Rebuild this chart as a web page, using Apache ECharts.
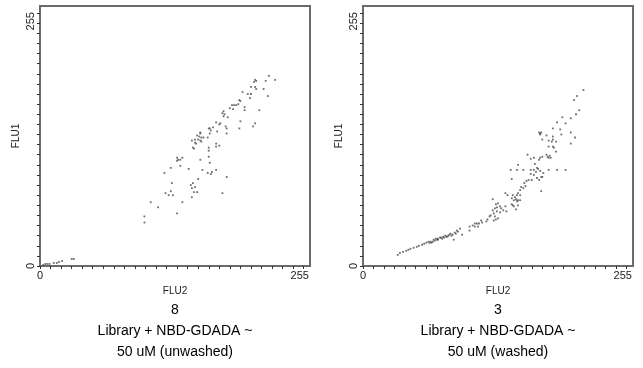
<!DOCTYPE html>
<html>
<head>
<meta charset="utf-8">
<script src="https://cdn.jsdelivr.net/npm/echarts@6/dist/echarts.min.js"></script>
<style>
  html, body { margin: 0; padding: 0; background: #fff; }
  #chart { width: 643px; height: 368px; }
</style>
</head>
<body>
<div id="chart"></div>
<script>
// channel ticks every 10, only the ends are labelled
var tickValues = [0, 10, 20, 30, 40, 50, 60, 70, 80, 90, 100, 110, 120, 130, 140, 150, 160, 170, 180, 190, 200, 210, 220, 230, 240, 250];
var labelValues = [0, 255];
var axisNames = ['FLU2', 'FLU1'];
var sampleNumbers = ['8', '3'];
var sampleNames = ['Library + NBD-GDADA ~\n50 uM (unwashed)', 'Library + NBD-GDADA ~\n50 uM (washed)'];

// [FLU2, FLU1] events
var unwashed = [
  [3, 1], [5, 2], [7, 2], [9, 2], [13, 3], [16, 3], [18, 4], [21, 5], [30, 7], [32, 7],
  [217, 188], [223, 184], [204, 184], [205, 183], [203, 182], [214, 183], [200, 177], [204, 177], [205, 175], [212, 175],
  [192, 172], [197, 170], [200, 170], [216, 168], [199, 166], [189, 164], [190, 163], [188, 160], [184, 159], [186, 159],
  [182, 159], [180, 156], [183, 155], [194, 157], [194, 154], [208, 154], [174, 153], [173, 151], [175, 150], [174, 148],
  [178, 147], [190, 143], [167, 142], [171, 141], [170, 140], [176, 138], [204, 141], [202, 138], [189, 136], [177, 136],
  [164, 137], [161, 136], [160, 136], [162, 134], [168, 133], [152, 132], [152, 131], [161, 131], [177, 131], [149, 129],
  [151, 128], [153, 127], [147, 125], [150, 125], [152, 124], [144, 124], [147, 122], [148, 121], [153, 123], [155, 127],
  [159, 127], [167, 121], [167, 118], [170, 119], [145, 117], [146, 116], [160, 117], [160, 114], [160, 108], [161, 102],
  [152, 105], [130, 107], [131, 105], [133, 105], [135, 107], [130, 104], [133, 99], [124, 97], [141, 96], [118, 92],
  [154, 95], [159, 92], [162, 91], [163, 93], [167, 95], [177, 88], [150, 86], [145, 82], [143, 80], [147, 78],
  [144, 77], [125, 82], [124, 74], [119, 72], [122, 70], [126, 70], [146, 73], [149, 73], [144, 68], [173, 72],
  [105, 63], [112, 58], [135, 63], [130, 52], [99, 49], [99, 43]
];

var washed = [
  [209, 174], [203, 168], [200, 164], [205, 154], [202, 150], [197, 146], [189, 147], [184, 142], [192, 141], [180, 136],
  [187, 135], [197, 132], [188, 130], [169, 132], [168, 131], [167, 132], [168, 130], [174, 129], [170, 125], [176, 124],
  [180, 128], [180, 125], [179, 123], [183, 123], [201, 127], [176, 118], [180, 118], [181, 117], [197, 121], [183, 113],
  [156, 110], [174, 110], [175, 108], [176, 107], [178, 107], [177, 109], [159, 106], [162, 107], [168, 107], [167, 105],
  [170, 108], [147, 100], [146, 95], [163, 101], [165, 97], [166, 96], [162, 95], [164, 93], [168, 94], [171, 92],
  [169, 88], [170, 88], [140, 95], [152, 95], [159, 95], [176, 95], [184, 95], [192, 95], [159, 91], [162, 90],
  [165, 87], [167, 85], [160, 85], [157, 85], [155, 84], [141, 86], [153, 82], [154, 79], [150, 78], [152, 77],
  [149, 75], [147, 72], [146, 70], [144, 68], [145, 66], [149, 70], [169, 74], [135, 72], [137, 70], [142, 70],
  [141, 67], [143, 65], [146, 64], [141, 61], [147, 65], [149, 65], [143, 59], [145, 56], [142, 60], [147, 60],
  [123, 66], [126, 61], [128, 62], [127, 58], [131, 57], [130, 59], [125, 57], [123, 55], [127, 54], [130, 53],
  [124, 52], [121, 50], [125, 49], [128, 47], [126, 46], [124, 45], [120, 49], [118, 46], [135, 59], [136, 54],
  [133, 55], [117, 44], [113, 43], [110, 42], [108, 42], [106, 42], [104, 40], [101, 39], [101, 35], [112, 45],
  [109, 39], [106, 39], [92, 37], [89, 35], [88, 32], [85, 31], [83, 32], [81, 30], [79, 29], [76, 29],
  [75, 27], [73, 28], [71, 26], [69, 27], [67, 26], [64, 24], [63, 23], [62, 24], [60, 23], [58, 22],
  [56, 21], [53, 20], [51, 19], [48, 18], [45, 17], [43, 16], [41, 15], [38, 14], [35, 13], [33, 11],
  [94, 31], [86, 26], [65, 23], [68, 25], [71, 27], [74, 28], [78, 30], [80, 29], [82, 31], [87, 33],
  [90, 34], [66, 24], [70, 26], [77, 28], [84, 30]
];

var panelLeft = [40, 363];
var font = "'Liberation Sans', Arial, sans-serif";
var lineColor = '#6b6b6b';

var chart = echarts.init(document.getElementById('chart'));

var grids = [], xAxes = [], yAxes = [], series = [], texts = [];
[unwashed, washed].forEach(function (points, i) {
  grids.push({
    left: panelLeft[i], top: 6, width: 270, height: 260,
    show: true, borderColor: lineColor, borderWidth: 2
  });
  xAxes.push({
    gridIndex: i, type: 'value', min: 0, max: 256,
    name: axisNames[0], nameLocation: 'middle', nameGap: 20,
    nameTextStyle: { fontFamily: font, fontSize: 10, color: '#222' },
    axisLine: { lineStyle: { color: lineColor, width: 2 } },
    axisTick: { customValues: tickValues, length: 3, lineStyle: { color: '#333' } },
    axisLabel: {
      customValues: labelValues, margin: 4, alignMaxLabel: 'right',
      fontFamily: font, fontSize: 11, color: '#222'
    },
    splitLine: { show: false }
  });
  yAxes.push({
    gridIndex: i, type: 'value', min: 0, max: 257,
    name: axisNames[1], nameLocation: 'middle', nameGap: 19,
    nameTextStyle: { fontFamily: font, fontSize: 10, color: '#222' },
    axisLine: { lineStyle: { color: lineColor, width: 2 } },
    axisTick: { customValues: tickValues, length: 3, lineStyle: { color: '#333' } },
    axisLabel: {
      customValues: labelValues, margin: 4, rotate: 90, alignMaxLabel: 'right',
      fontFamily: font, fontSize: 11, color: '#222',
      // the top label sits a little below the box corner
      formatter: function (v) { return v === 255 ? '{top|' + v + '}' : String(v); },
      rich: { top: { fontFamily: font, fontSize: 11, color: '#222', padding: [0, 4, 0, 0] } }
    },
    splitLine: { show: false }
  });
  series.push({
    type: 'scatter', xAxisIndex: i, yAxisIndex: i,
    symbol: 'rect', symbolSize: 1.8,
    itemStyle: { color: '#4a4a4a' },
    silent: true,
    data: points
  });
  texts.push({
    type: 'text', x: panelLeft[i] + 135, y: 300,
    style: {
      text: sampleNumbers[i] + '\n' + sampleNames[i],
      textAlign: 'center', textVerticalAlign: 'top',
      fontFamily: font, fontSize: 14, lineHeight: 21, fill: '#000'
    }
  });
});

chart.setOption({
  animation: false,
  backgroundColor: '#fff',
  grid: grids,
  xAxis: xAxes,
  yAxis: yAxes,
  series: series,
  graphic: texts
});
</script>
</body>
</html>
